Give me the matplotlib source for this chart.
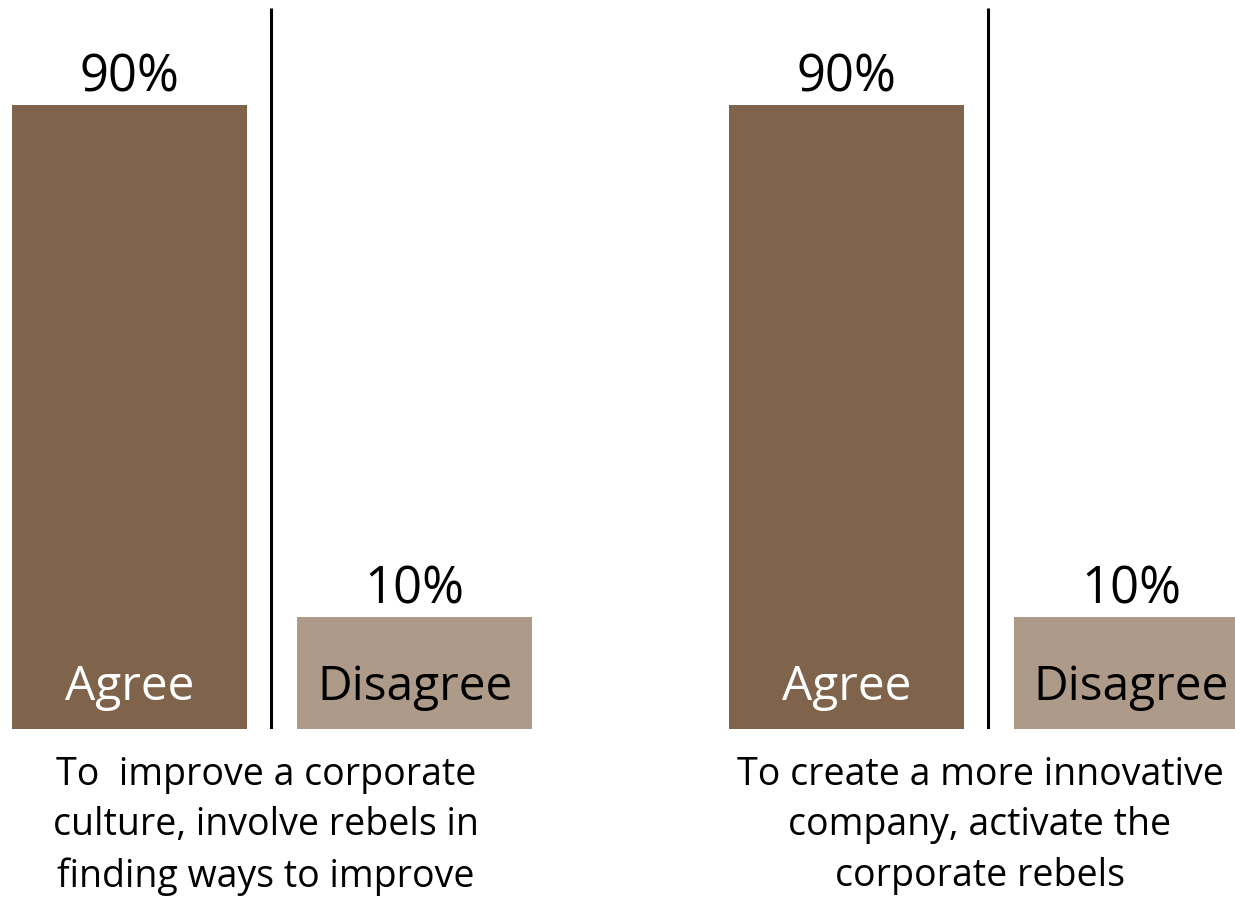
import matplotlib.pyplot as plt

# ── Data ───────────────────────────────────────────────────────────────────────

answers = ["Agree", "Disagree"]
captions = [
    "To  improve a corporate\nculture, involve rebels in\nfinding ways to improve",
    "To create a more innovative\ncompany, activate the\ncorporate rebels",
]
shares = [[90, 10], [90, 10]]
share_labels = [["90%", "10%"], ["90%", "10%"]]

COLORS = ["#7f634b", "#ae9a89"]
TEXT_COLORS = ["white", "black"]
BASE = -7.5          # bars start below zero in the original graphic
PX = 6.4             # pixels per data unit

plt.rcParams["font.family"] = ["Open Sans", "DejaVu Sans"]

# ── Plot ───────────────────────────────────────────────────────────────────────

fig = plt.figure(figsize=(12.35, 9), dpi=100)
ax = fig.add_axes([0, 171 / 900, 1, 729 / 900])
ax.set_xlim(0, 1235)
ax.set_ylim(BASE, BASE + 729 / PX)
ax.axis("off")

group_step = 717
bar_w = 235
inner = [129.5, 414.5]

for g, (vals, labs) in enumerate(zip(shares, share_labels)):
    x0 = g * group_step
    for i, (v, lab) in enumerate(zip(vals, labs)):
        xc = x0 + inner[i]
        ax.bar(xc, v - BASE, bottom=BASE, width=bar_w, color=COLORS[i], linewidth=0)
        ax.text(xc, v + 13 / PX, lab, ha="center", va="baseline", fontsize=36.5, color="black")
        ax.text(xc, BASE + 29 / PX, answers[i], ha="center", va="baseline",
                fontsize=34.5, color=TEXT_COLORS[i])
    ax.plot([x0 + 271, x0 + 271], [BASE, BASE + 721 / PX], color="black", lw=2.2,
            solid_capstyle="butt")
    fig.text((266 + g * 714) / 1235, 1 - 756 / 900, captions[g], ha="center", va="top",
             fontsize=27, linespacing=1.43)

fig.savefig("out.png", dpi=100)
